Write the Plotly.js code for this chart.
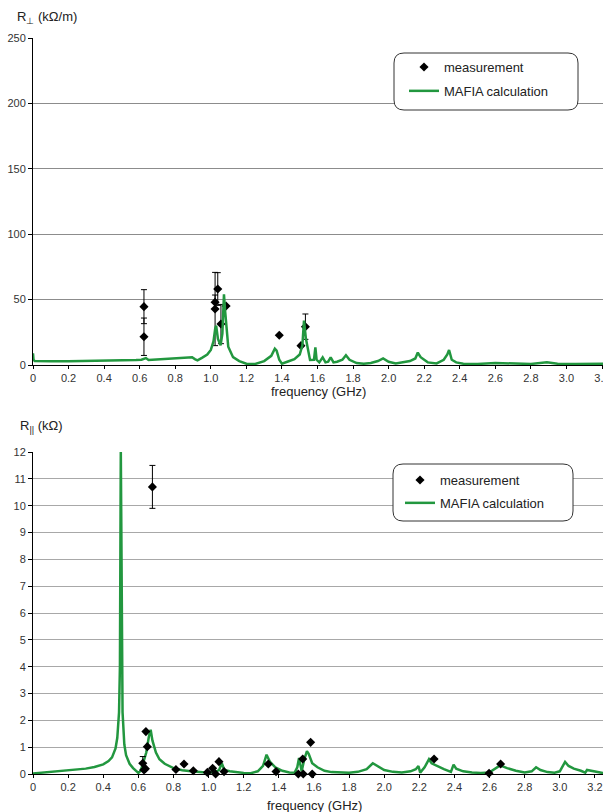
<!DOCTYPE html>
<html>
<head>
<meta charset="utf-8">
<script src="https://cdn.plot.ly/plotly-3.0.1.min.js"></script>
<style>html,body{margin:0;padding:0;background:#fff;}#chart{width:603px;height:812px;}</style>
</head>
<body>
<div id="chart"></div>
<script>
// ---- Transverse impedance (top) ----
var freqCalcT = [0, 0.003, 0.01, 0.05, 0.1, 0.2, 0.3, 0.4, 0.5, 0.58,
  0.61, 0.635, 0.65, 0.7, 0.8, 0.86, 0.895, 0.91, 0.925, 0.95,
  0.98, 1.0, 1.015, 1.025, 1.03, 1.04, 1.055, 1.065, 1.074, 1.08,
  1.098, 1.125, 1.16, 1.2, 1.25, 1.3, 1.34, 1.36, 1.37, 1.385,
  1.4, 1.43, 1.47, 1.5, 1.515, 1.524, 1.535, 1.558, 1.58, 1.588,
  1.595, 1.61, 1.629, 1.645, 1.66, 1.674, 1.69, 1.71, 1.74, 1.76,
  1.78, 1.82, 1.86, 1.9, 1.94, 1.969, 2.0, 2.04, 2.08, 2.12,
  2.15, 2.164, 2.18, 2.22, 2.27, 2.31, 2.33, 2.34, 2.355, 2.38,
  2.42, 2.5, 2.6, 2.7, 2.8, 2.89, 2.95, 3.05, 3.15, 3.21];
var calcT = [9, 4, 3, 2.8, 2.8, 2.9, 3.0, 3.2, 3.5, 3.8,
  4.0, 5.3, 3.8, 4.2, 5.0, 6.0, 5.9, 4.5, 3.6, 5.5,
  8, 11.5, 18, 28, 30, 20, 15, 24, 54, 42,
  14, 6, 3, 1, 0.8, 3, 7, 12.5, 11, 4,
  1, 2.5, 4.5, 8, 15, 34, 20, 3.8, 4, 13.5,
  4, 2, 5.8, 2, 2.5, 5.9, 2, 2.5, 4, 7.5,
  4, 1.5, 1, 1.5, 3, 5, 2.5, 1.2, 2, 3,
  5, 9.5, 6, 2, 1.2, 4, 8, 11.5, 4, 2,
  1, 0.8, 1.5, 1, 0.8, 2, 1, 0.8, 1, 1];
var freqMeasT = [0.624, 0.624, 1.024, 1.024, 1.039, 1.057, 1.086, 1.385, 1.507, 1.532];
var measT     = [44.6, 21.6, 48, 42.8, 58.1, 31.3, 45.1, 22.7, 14.8, 29.3];
var errT      = [13, 14.3, 5.5, 28, 12.5, 15, 0, 0, 0, 9.7];

// ---- Longitudinal impedance (bottom) ----
var freqCalcL = [0, 0.05, 0.1, 0.15, 0.2, 0.25, 0.3, 0.35, 0.4, 0.43,
  0.45, 0.47, 0.48, 0.49, 0.495, 0.5, 0.505, 0.51, 0.52, 0.53,
  0.55, 0.57, 0.6, 0.61, 0.62, 0.63, 0.645, 0.66, 0.67, 0.68,
  0.7, 0.72, 0.75, 0.8, 0.85, 0.9, 0.95, 1.0, 1.04, 1.06,
  1.075, 1.09, 1.12, 1.16, 1.2, 1.24, 1.28, 1.31, 1.33, 1.35,
  1.38, 1.42, 1.46, 1.49, 1.505, 1.515, 1.53, 1.545, 1.56, 1.57,
  1.59, 1.62, 1.66, 1.7, 1.75, 1.8, 1.85, 1.9, 1.935, 1.96,
  2.0, 2.05, 2.1, 2.15, 2.18, 2.195, 2.205, 2.23, 2.255, 2.27,
  2.3, 2.34, 2.38, 2.395, 2.41, 2.45, 2.5, 2.55, 2.6, 2.63,
  2.66, 2.7, 2.75, 2.8, 2.84, 2.865, 2.89, 2.93, 2.97, 3.0,
  3.03, 3.05, 3.08, 3.12, 3.145, 3.155, 3.2, 3.25];
var calcL = [0.02, 0.05, 0.07, 0.1, 0.12, 0.16, 0.2, 0.26, 0.36, 0.48,
  0.62, 0.95, 1.35, 2.3, 4, 12.1, 4, 2.3, 1.1, 0.7,
  0.38, 0.22, 0.04, 0.1, 0.25, 0.45, 0.8, 1.4, 1.65, 1.25,
  0.8, 0.55, 0.38, 0.22, 0.14, 0.1, 0.07, 0.05, 0.08, 0.15,
  0.4, 0.15, 0.1, 0.06, 0.04, 0.03, 0.1, 0.3, 0.72, 0.45,
  0.25, 0.12, 0.06, 0.05, 0.25, 0.6, 0.1, 0.55, 0.85, 0.75,
  0.4, 0.25, 0.12, 0.07, 0.05, 0.05, 0.08, 0.18, 0.4, 0.3,
  0.15, 0.08, 0.06, 0.1, 0.18, 0.3, 0.05, 0.25, 0.55, 0.4,
  0.3, 0.18, 0.08, 0.35, 0.2, 0.1, 0.06, 0.04, 0.06, 0.2,
  0.32, 0.22, 0.12, 0.06, 0.1, 0.25, 0.15, 0.07, 0.05, 0.1,
  0.45, 0.3, 0.2, 0.12, 0.05, 0.15, 0.08, 0.03];
var freqMeasL = [0.625, 0.632, 0.64, 0.643, 0.651, 0.68, 0.814, 0.86, 0.913, 0.993,
  1.023, 1.04, 1.059, 1.088, 1.34, 1.384, 1.511, 1.536, 1.539, 1.581,
  1.59, 2.284, 2.597, 2.663];
var measL = [0.4, 0.15, 0.2, 1.58, 1.02, 10.7, 0.17, 0.37, 0.12, 0.06,
  0.21, 0.0, 0.46, 0.09, 0.37, 0.09, 0.0, 0.56, 0.0, 1.18,
  0.0, 0.56, 0.03, 0.37];
var errL = [0.25, 0, 0, 0, 0, 0.8, 0, 0, 0, 0,
  0, 0, 0, 0, 0, 0, 0, 0, 0, 0,
  0, 0, 0, 0];

var tickVals = [0, 0.2, 0.4, 0.6, 0.8, 1.0, 1.2, 1.4, 1.6, 1.8, 2.0, 2.2, 2.4, 2.6, 2.8, 3.0, 3.2];
var tickText = ['0', '0.2', '0.4', '0.6', '0.8', '1.0', '1.2', '1.4', '1.6', '1.8', '2.0', '2.2', '2.4', '2.6', '2.8', '3.0', '3.2'];

var GREEN = '#22973f';
var FONT = 'Liberation Sans, Arial, sans-serif';

// geometry helpers (pixel -> paper)
var W = 603, H = 812, ML = 33, MR = 0, MT = 38, MB = 38;
var PW = W - ML - MR, PH = H - MT - MB;
function px(x) { return (x - ML) / PW; }
function py(y) { return (H - MB - y) / PH; }
function roundRect(x0, y0, x1, y1, r) {
  var a = px(x0), b = px(x1), top = py(y0), bot = py(y1);
  var rx = r / PW, ry = r / PH;
  return 'M' + (a + rx) + ',' + top + ' L' + (b - rx) + ',' + top +
    ' Q' + b + ',' + top + ' ' + b + ',' + (top - ry) +
    ' L' + b + ',' + (bot + ry) + ' Q' + b + ',' + bot + ' ' + (b - rx) + ',' + bot +
    ' L' + (a + rx) + ',' + bot + ' Q' + a + ',' + bot + ' ' + a + ',' + (bot + ry) +
    ' L' + a + ',' + (top - ry) + ' Q' + a + ',' + top + ' ' + (a + rx) + ',' + top + ' Z';
}

var traces = [
  {x: freqMeasT, y: measT, type: 'scatter', mode: 'markers', name: 'measurement',
   xaxis: 'x', yaxis: 'y', legend: 'legend', legendgroup: 'a',
   marker: {symbol: 'diamond', size: 7, color: '#000'}, cliponaxis: false,
   error_y: {type: 'data', array: errT, visible: true, color: '#000', thickness: 1, width: 3}},
  {x: freqCalcT, y: calcT, type: 'scatter', mode: 'lines', name: 'MAFIA calculation',
   xaxis: 'x', yaxis: 'y', legend: 'legend', legendgroup: 'b',
   line: {color: GREEN, width: 2.5}},
  {x: freqCalcL, y: calcL, type: 'scatter', mode: 'lines', name: 'MAFIA calculation',
   xaxis: 'x2', yaxis: 'y2', legend: 'legend2', legendgroup: 'd', legendrank: 2,
   line: {color: GREEN, width: 2.5}},
  {x: freqMeasL, y: measL, type: 'scatter', mode: 'markers', name: 'measurement',
   xaxis: 'x2', yaxis: 'y2', legend: 'legend2', legendgroup: 'c', legendrank: 1,
   marker: {symbol: 'diamond', size: 7, color: '#000'}, cliponaxis: false,
   error_y: {type: 'data', array: errL, visible: true, color: '#000', thickness: 1, width: 3}}
];

var tickFont = {family: FONT, size: 11, color: '#333'};
var commonX = {tickmode: 'array', tickvals: tickVals, ticktext: tickText, ticks: 'outside', ticklen: 3,
  tickcolor: '#000', showline: true, linecolor: '#000', linewidth: 1, showgrid: false, zeroline: false,
  tickfont: tickFont, fixedrange: true, ticklabeloverflow: 'allow'};
var commonY = {ticks: 'outside', ticklen: 4, tickcolor: '#000', showline: true, linecolor: '#000',
  linewidth: 1, showgrid: true, zeroline: false, tickfont: tickFont, fixedrange: true};

var layout = {
  width: W, height: H,
  margin: {l: ML, r: MR, t: MT, b: MB},
  paper_bgcolor: '#fff', plot_bgcolor: '#fff',
  font: {family: FONT, color: '#222'},
  showlegend: true,
  xaxis: Object.assign({}, commonX, {anchor: 'y', domain: [0, 1], range: [0, 3.2056]}),
  yaxis: Object.assign({}, commonY, {anchor: 'x', domain: [py(365), 1], range: [0, 250], dtick: 50, gridcolor: '#8c8c8c'}),
  xaxis2: Object.assign({}, commonX, {anchor: 'y2', domain: [0, 1], range: [0, 3.246]}),
  yaxis2: Object.assign({}, commonY, {anchor: 'x2', domain: [0, py(452)], range: [0, 12], dtick: 1, gridcolor: '#a8a8a8'}),
  legend: {x: px(404), y: py(52), xanchor: 'left', yanchor: 'top', bgcolor: 'rgba(0,0,0,0)',
    borderwidth: 0, font: {family: FONT, size: 13, color: '#222'}, traceorder: 'grouped', tracegroupgap: 4},
  legend2: {x: px(400), y: py(465), xanchor: 'left', yanchor: 'top', bgcolor: 'rgba(0,0,0,0)',
    borderwidth: 0, font: {family: FONT, size: 13, color: '#222'}, traceorder: 'grouped', tracegroupgap: 3},
  shapes: [
    {type: 'path', xref: 'paper', yref: 'paper', path: roundRect(394, 53, 578, 110, 10),
     fillcolor: '#fff', line: {color: '#333', width: 1}, layer: 'above'},
    {type: 'path', xref: 'paper', yref: 'paper', path: roundRect(393, 464, 573, 521, 10),
     fillcolor: '#fff', line: {color: '#333', width: 1}, layer: 'above'}
  ],
  annotations: [
    {text: 'R<sub>⊥</sub> (kΩ/m)', xref: 'paper', yref: 'paper', x: px(15), y: py(18),
     xanchor: 'left', yanchor: 'middle', showarrow: false, font: {family: FONT, size: 13, color: '#222'}},
    {text: 'R<sub>||</sub> (kΩ)', xref: 'paper', yref: 'paper', x: px(18), y: py(426),
     xanchor: 'left', yanchor: 'middle', showarrow: false, font: {family: FONT, size: 13, color: '#222'}},
    {text: 'frequency (GHz)', xref: 'paper', yref: 'paper', x: px(318), y: py(391),
     xanchor: 'center', yanchor: 'middle', showarrow: false, font: {family: FONT, size: 13, color: '#222'}},
    {text: 'frequency (GHz)', xref: 'paper', yref: 'paper', x: px(314), y: py(805),
     xanchor: 'center', yanchor: 'middle', showarrow: false, font: {family: FONT, size: 13, color: '#222'}}
  ]
};

Plotly.newPlot('chart', traces, layout, {displayModeBar: false, staticPlot: true});
</script>
</body>
</html>
